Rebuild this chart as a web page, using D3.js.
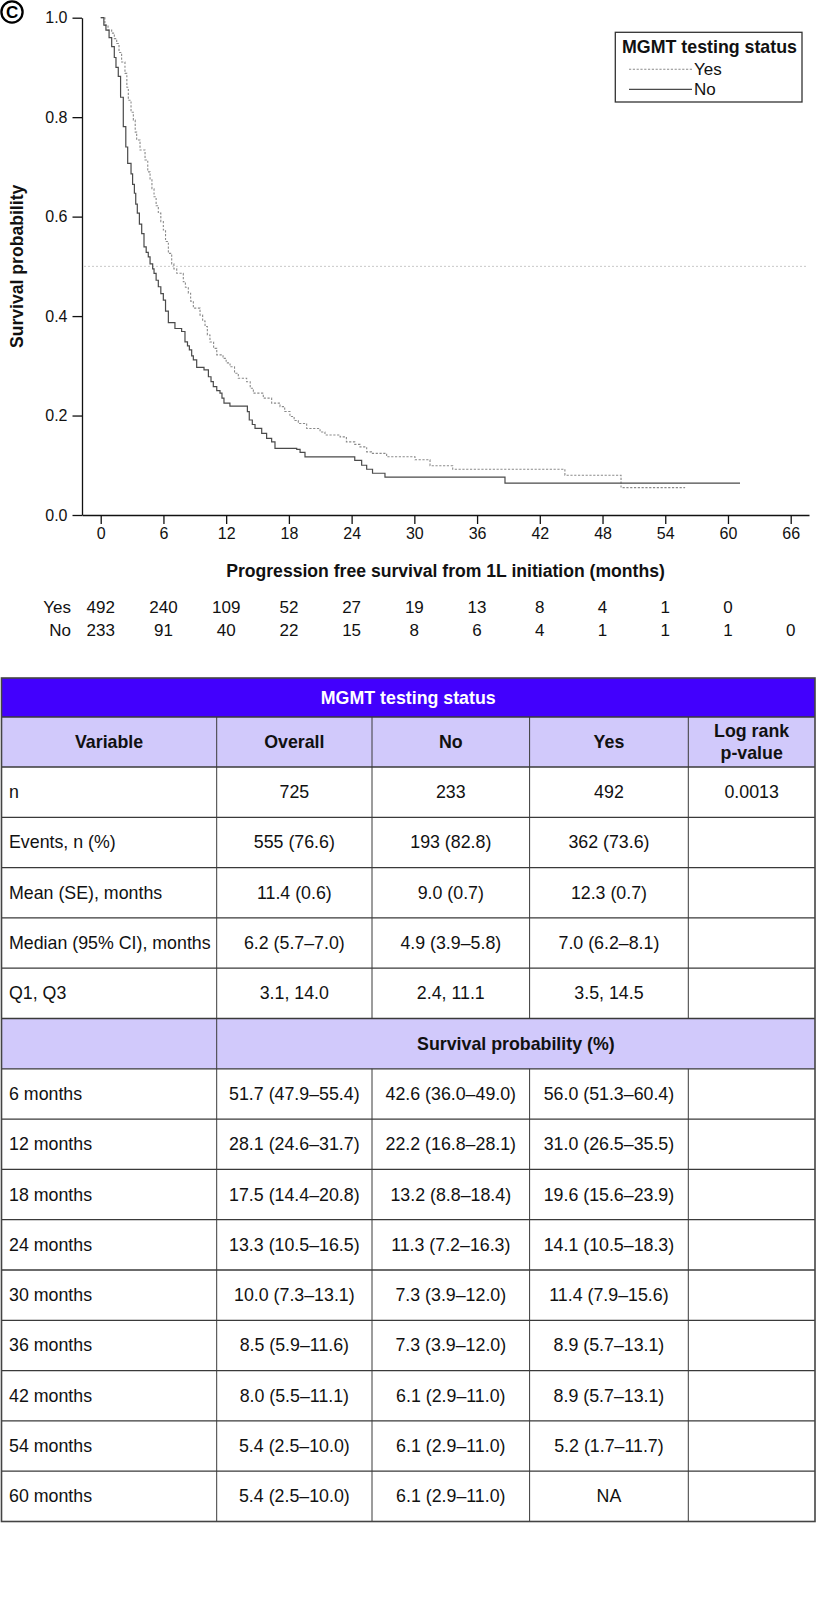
<!DOCTYPE html>
<html><head><meta charset="utf-8">
<script src="https://cdn.jsdelivr.net/npm/d3@7/dist/d3.min.js"></script>
<style>
body{margin:0;background:#fff}
svg{display:block}
text{font-family:"Liberation Sans",Arial,Helvetica,sans-serif}
</style>
</head><body>
<svg id="c" width="816" height="1610"></svg>
<script>
// ---------------- data ----------------
const xTicks = [0, 6, 12, 18, 24, 30, 36, 42, 48, 54, 60, 66];
const yTicks = [0, 0.2, 0.4, 0.6, 0.8, 1.0];
const groups = ["Yes", "No"];
const legendTitle = "MGMT testing status";
const xTitle = "Progression free survival from 1L initiation (months)";
const yTitle = "Survival probability";
const panelLabel = "C";

// Kaplan-Meier steps [month, survival]
const yesCurve = [[0,1],[0.4,0.985],[0.7,0.975],[1.05,0.969],[1.3,0.958],[1.53,0.948],[1.75,0.93],[2.0,0.911],[2.32,0.888],[2.5,0.86],[2.64,0.834],[2.9,0.81],[3.12,0.794],[3.3,0.77],[3.44,0.754],[3.76,0.734],[4.24,0.714],[4.5,0.69],[4.72,0.674],[4.9,0.656],[5.1,0.64],[5.3,0.622],[5.51,0.607],[5.75,0.59],[5.99,0.573],[6.2,0.55],[6.47,0.526],[6.79,0.505],[7.0,0.495],[7.27,0.486],[7.9,0.469],[8.1,0.458],[8.38,0.446],[8.6,0.43],[8.86,0.416],[9.5,0.402],[9.75,0.39],[9.98,0.379],[10.2,0.362],[10.45,0.348],[10.8,0.335],[11.1,0.322],[11.7,0.315],[12.0,0.306],[12.37,0.298],[12.8,0.285],[13.16,0.275],[13.96,0.268],[14.3,0.255],[14.6,0.245],[15.55,0.235],[16.35,0.225],[17.15,0.218],[17.6,0.208],[18.1,0.198],[18.5,0.19],[18.9,0.184],[19.7,0.174],[20.98,0.167],[21.45,0.161],[22.9,0.157],[23.5,0.147],[24.3,0.142],[24.8,0.137],[25.44,0.127],[25.9,0.124],[27.35,0.117],[30.06,0.111],[31.5,0.099],[33.67,0.092],[44.4,0.080],[49.77,0.055],[55.9,0.055]];
const noCurve = [[0,1],[0.3,0.985],[0.5,0.975],[0.8,0.96],[1.05,0.942],[1.3,0.92],[1.46,0.90],[1.68,0.882],[1.9,0.84],[2.16,0.781],[2.4,0.74],[2.58,0.707],[2.9,0.686],[3.05,0.665],[3.22,0.647],[3.35,0.625],[3.5,0.607],[3.7,0.585],[3.92,0.566],[4.14,0.539],[4.35,0.528],[4.55,0.519],[4.72,0.505],[4.97,0.495],[5.1,0.486],[5.3,0.472],[5.51,0.459],[5.75,0.445],[5.99,0.432],[6.2,0.41],[6.47,0.387],[7.1,0.375],[7.74,0.369],[8.06,0.348],[8.3,0.34],[8.48,0.332],[8.7,0.32],[8.86,0.312],[9.18,0.297],[9.88,0.292],[10.3,0.278],[10.55,0.268],[10.77,0.258],[11.1,0.25],[11.41,0.245],[11.6,0.235],[11.79,0.225],[12.36,0.219],[14.03,0.208],[14.21,0.191],[14.5,0.182],[14.76,0.174],[15.4,0.164],[15.87,0.154],[16.35,0.147],[16.67,0.134],[18.75,0.132],[19.07,0.126],[19.54,0.117],[24.3,0.11],[24.96,0.10],[25.44,0.092],[26.0,0.084],[27.19,0.076],[38.67,0.064],[61.15,0.064]];

// numbers at risk
const riskYes = [492, 240, 109, 52, 27, 19, 13, 8, 4, 1, 0];
const riskNo  = [233, 91, 40, 22, 15, 8, 6, 4, 1, 1, 1, 0];

// table
const tableTitle = "MGMT testing status";
const tableColumns = ["Variable", "Overall", "No", "Yes", "Log rank|p-value"];
const summaryRows = [
  ["n", "725", "233", "492", "0.0013"],
  ["Events, n (%)", "555 (76.6)", "193 (82.8)", "362 (73.6)", ""],
  ["Mean (SE), months", "11.4 (0.6)", "9.0 (0.7)", "12.3 (0.7)", ""],
  ["Median (95% CI), months", "6.2 (5.7–7.0)", "4.9 (3.9–5.8)", "7.0 (6.2–8.1)", ""],
  ["Q1, Q3", "3.1, 14.0", "2.4, 11.1", "3.5, 14.5", ""]
];
const survHeader = "Survival probability (%)";
const survRows = [
  ["6 months", "51.7 (47.9–55.4)", "42.6 (36.0–49.0)", "56.0 (51.3–60.4)", ""],
  ["12 months", "28.1 (24.6–31.7)", "22.2 (16.8–28.1)", "31.0 (26.5–35.5)", ""],
  ["18 months", "17.5 (14.4–20.8)", "13.2 (8.8–18.4)", "19.6 (15.6–23.9)", ""],
  ["24 months", "13.3 (10.5–16.5)", "11.3 (7.2–16.3)", "14.1 (10.5–18.3)", ""],
  ["30 months", "10.0 (7.3–13.1)", "7.3 (3.9–12.0)", "11.4 (7.9–15.6)", ""],
  ["36 months", "8.5 (5.9–11.6)", "7.3 (3.9–12.0)", "8.9 (5.7–13.1)", ""],
  ["42 months", "8.0 (5.5–11.1)", "6.1 (2.9–11.0)", "8.9 (5.7–13.1)", ""],
  ["54 months", "5.4 (2.5–10.0)", "6.1 (2.9–11.0)", "5.2 (1.7–11.7)", ""],
  ["60 months", "5.4 (2.5–10.0)", "6.1 (2.9–11.0)", "NA", ""]
];

// ---------------- layout ----------------
const svg = d3.select("#c");
const x = d3.scaleLinear().domain([-1.79, 67.75]).range([82, 809]);
const y = d3.scaleLinear().domain([0, 1]).range([515, 17.7]);
const styles = {
  Yes: {stroke: "#8a8a8a", dash: "2.2,1.6", width: 1.1},
  No:  {stroke: "#4a4a4a", dash: null, width: 1.2}
};

// panel label
svg.append("circle").attr("cx", 12).attr("cy", 12).attr("r", 10.6)
  .attr("fill", "none").attr("stroke", "#000").attr("stroke-width", 2.3);
svg.append("text").attr("x", 12.2).attr("y", 12.6).attr("text-anchor", "middle")
  .attr("dominant-baseline", "central").attr("font-size", 17).attr("font-weight", "bold")
  .text(panelLabel);

// median reference line
svg.append("line").attr("x1", x.range()[0] + 2).attr("x2", x.range()[1] - 2)
  .attr("y1", y(0.5)).attr("y2", y(0.5))
  .attr("stroke", "#c8c8c8").attr("stroke-width", 1).attr("stroke-dasharray", "2,2");

// axes
const xAxis = d3.axisBottom(x).tickValues(xTicks).tickSize(9).tickSizeOuter(0).tickPadding(4);
const gx = svg.append("g").attr("transform", `translate(0,${y(0)})`).call(xAxis);
gx.selectAll("text").attr("font-size", 16).attr("fill", "#111");
gx.selectAll("line,path").attr("stroke", "#111").attr("stroke-width", 1.3);

const yAxis = d3.axisLeft(y).tickValues(yTicks).tickFormat(d3.format(".1f")).tickSize(9.5).tickSizeOuter(0).tickPadding(5);
const gy = svg.append("g").attr("transform", `translate(${x.range()[0]},0)`).call(yAxis);
gy.selectAll("text").attr("font-size", 16).attr("fill", "#111");
gy.selectAll("line,path").attr("stroke", "#111").attr("stroke-width", 1.3);
gx.attr("font-family", null); gy.attr("font-family", null);

// axis titles
svg.append("text").attr("x", (x.range()[0] + x.range()[1]) / 2).attr("y", 570.7)
  .attr("text-anchor", "middle").attr("dominant-baseline", "central")
  .attr("font-size", 17.6).attr("font-weight", "bold").attr("fill", "#111").text(xTitle);
svg.append("text").attr("transform", `translate(16.5,${(y(0) + y(1)) / 2}) rotate(-90)`)
  .attr("text-anchor", "middle").attr("dominant-baseline", "central")
  .attr("font-size", 17.6).attr("font-weight", "bold").attr("fill", "#111").text(yTitle);

// curves
const line = d3.line().x(d => x(d[0])).y(d => y(d[1])).curve(d3.curveStepAfter);
const curves = {Yes: yesCurve, No: noCurve};
groups.forEach(g => {
  svg.append("path").datum(curves[g]).attr("d", line).attr("fill", "none")
    .attr("stroke", styles[g].stroke).attr("stroke-width", styles[g].width)
    .attr("stroke-dasharray", styles[g].dash);
});

// legend
const lg = svg.append("g");
lg.append("rect").attr("x", 615.3).attr("y", 32.3).attr("width", 186.7).attr("height", 69.7)
  .attr("fill", "#fff").attr("stroke", "#333").attr("stroke-width", 1.3);
lg.append("text").attr("x", 709.5).attr("y", 53).attr("text-anchor", "middle")
  .attr("font-size", 17.8).attr("font-weight", "bold").attr("fill", "#111").text(legendTitle);
groups.forEach((g, i) => {
  const ly = 69.3 + i * 20;
  lg.append("line").attr("x1", 629).attr("x2", 692).attr("y1", ly).attr("y2", ly)
    .attr("stroke", styles[g].stroke).attr("stroke-width", styles[g].width)
    .attr("stroke-dasharray", styles[g].dash);
  lg.append("text").attr("x", 694).attr("y", ly).attr("dominant-baseline", "central")
    .attr("font-size", 17).attr("fill", "#111").text(g);
});

// numbers at risk
const riskData = {Yes: riskYes, No: riskNo};
groups.forEach((g, i) => {
  const ry = 607.3 + i * 22.7;
  svg.append("text").attr("x", 71).attr("y", ry).attr("text-anchor", "end")
    .attr("dominant-baseline", "central").attr("font-size", 17).attr("fill", "#111").text(g);
  svg.selectAll(null).data(riskData[g]).enter().append("text")
    .attr("x", (d, j) => x(xTicks[j])).attr("y", ry).attr("text-anchor", "middle")
    .attr("dominant-baseline", "central").attr("font-size", 17).attr("fill", "#111")
    .text(d => d);
});

// ---------------- table ----------------
const colEdges = [1.5, 216.7, 372, 529.6, 688.3, 815];
const tableTop = 678, h1 = 39, h2 = 50, rowH = 50.3;
const violet = "#4200fd", lavender = "#d1c9fb", lineCol = "#3a3a3a";
const fs = 17.8;
const tg = svg.append("g");

// header 1
tg.append("rect").attr("x", colEdges[0]).attr("y", tableTop).attr("width", colEdges[5] - colEdges[0])
  .attr("height", h1).attr("fill", violet);
tg.append("text").attr("x", (colEdges[0] + colEdges[5]) / 2).attr("y", tableTop + h1 / 2)
  .attr("text-anchor", "middle").attr("dominant-baseline", "central").attr("font-size", fs)
  .attr("font-weight", "bold").attr("fill", "#fff").text(tableTitle);

// header 2
const h2Top = tableTop + h1;
tg.append("rect").attr("x", colEdges[0]).attr("y", h2Top).attr("width", colEdges[5] - colEdges[0])
  .attr("height", h2).attr("fill", lavender);
tableColumns.forEach((c, i) => {
  const cx = (colEdges[i] + colEdges[i + 1]) / 2;
  const parts = c.split("|");
  parts.forEach((p, k) => {
    tg.append("text").attr("x", cx)
      .attr("y", h2Top + h2 / 2 + (k - (parts.length - 1) / 2) * 21.6)
      .attr("text-anchor", "middle").attr("dominant-baseline", "central")
      .attr("font-size", fs).attr("font-weight", "bold").attr("fill", "#111").text(p);
  });
});

// body rows
const allRows = summaryRows.concat([null]).concat(survRows);
let yy = h2Top + h2;
const rowTops = [];
allRows.forEach((r, i) => {
  const h = rowH;
  rowTops.push(yy);
  if (r === null) {
    tg.append("rect").attr("x", colEdges[0]).attr("y", yy).attr("width", colEdges[5] - colEdges[0])
      .attr("height", h).attr("fill", lavender);
    tg.append("text").attr("x", (colEdges[1] + colEdges[5]) / 2).attr("y", yy + h / 2)
      .attr("text-anchor", "middle").attr("dominant-baseline", "central").attr("font-size", fs)
      .attr("font-weight", "bold").attr("fill", "#111").text(survHeader);
  } else {
    r.forEach((v, j) => {
      const tx = j === 0 ? colEdges[0] + 7.5 : (colEdges[j] + colEdges[j + 1]) / 2;
      tg.append("text").attr("x", tx).attr("y", yy + h / 2)
        .attr("text-anchor", j === 0 ? "start" : "middle").attr("dominant-baseline", "central")
        .attr("font-size", fs).attr("fill", "#111").text(v);
    });
  }
  yy += h;
});
const tableBottom = yy;

// grid lines
const hLines = [h2Top, h2Top + h2].concat(rowTops.slice(1));
hLines.forEach(v => tg.append("line").attr("x1", colEdges[0]).attr("x2", colEdges[5])
  .attr("y1", v).attr("y2", v).attr("stroke", lineCol).attr("stroke-width", 1.3));
colEdges.slice(1, 5).forEach(cx => {
  tg.append("line").attr("x1", cx).attr("x2", cx).attr("y1", h2Top).attr("y2", rowTops[5])
    .attr("stroke", lineCol).attr("stroke-width", 1);
  tg.append("line").attr("x1", cx).attr("x2", cx).attr("y1", rowTops[6]).attr("y2", tableBottom)
    .attr("stroke", lineCol).attr("stroke-width", 1);
});
tg.append("line").attr("x1", colEdges[1]).attr("x2", colEdges[1]).attr("y1", rowTops[5]).attr("y2", rowTops[6])
  .attr("stroke", lineCol).attr("stroke-width", 1);
tg.append("rect").attr("x", colEdges[0]).attr("y", tableTop).attr("width", colEdges[5] - colEdges[0])
  .attr("height", tableBottom - tableTop).attr("fill", "none").attr("stroke", "#444").attr("stroke-width", 1.6);
</script>
</body></html>
